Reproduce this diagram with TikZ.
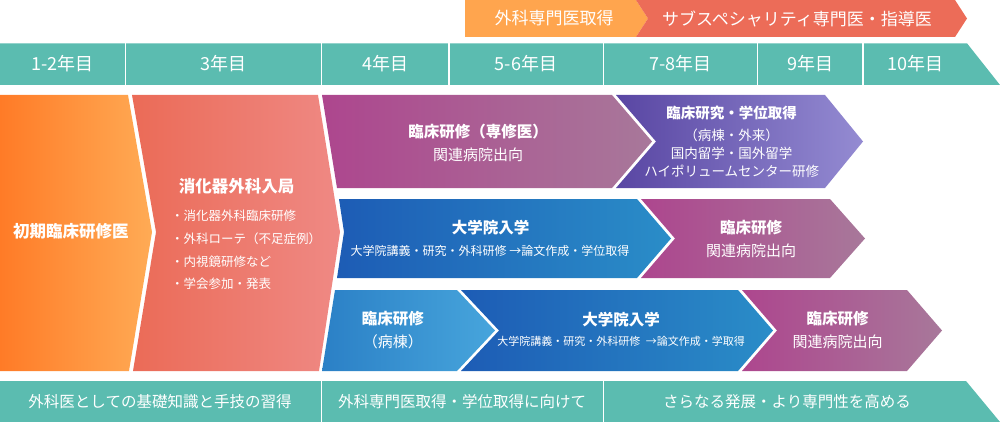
\documentclass[tikz,border=0pt]{standalone}
\usepackage{fontspec}
\newfontfamily\jp{Noto Sans CJK JP}
\usepackage{tikz}

\definecolor{bandteal}{HTML}{5BBCB0}
\definecolor{toporange}{HTML}{FFA54E}
\definecolor{topred}{HTML}{EC6C58}
\definecolor{orangeL}{HTML}{FF7B27}
\definecolor{orangeR}{HTML}{FFAB55}
\definecolor{redL}{HTML}{EB6B57}
\definecolor{redR}{HTML}{EF8984}
\definecolor{magL}{HTML}{AD468E}
\definecolor{magR}{HTML}{A8789A}
\definecolor{purL}{HTML}{5946A3}
\definecolor{purR}{HTML}{948BD2}
\definecolor{bluL}{HTML}{1D5CB5}
\definecolor{bluR}{HTML}{2A8DC8}
\definecolor{skyL}{HTML}{2B80C6}
\definecolor{skyR}{HTML}{47A5DC}

\newcommand{\jpsize}[1]{\jp\fontsize{#1pt}{#1pt}\selectfont}
\newcommand{\jpskip}[2]{\jp\fontsize{#1pt}{#2pt}\selectfont}

\tikzset{
  wtxt/.style={text=white, inner sep=0pt, align=center},
  yearlbl/.style={wtxt, font=\jpsize{18}},
  bandlbl/.style={wtxt, font=\jpsize{15.5}},
  ttl/.style={wtxt, font=\jpsize{15.5}\bfseries},
  sub/.style={wtxt, font=\jpsize{15}},
  small/.style={wtxt, font=\jpsize{12}},
  divider/.style={white, line width=1.3pt}
}

\begin{document}
\begin{tikzpicture}[x=1pt,y=-1pt]
  \useasboundingbox (0,0) rectangle (1000,422);

  % top banners
  \fill[toporange] (465,0) -- (636,0) -- (648,18.5) -- (636,37) -- (465,37) -- cycle;
  \fill[topred] (636,0) -- (955,0) -- (967,18.5) -- (955,37) -- (636,37) -- (648,18.5) -- cycle;
  \node[bandlbl, font=\jpsize{17}] (senmon) at (554,18.5) {外科専門医取得};
  \node[bandlbl, font=\jpsize{17}] (subspec) at (797,18.5) {サブスペシャリティ専門医・指導医};

  % year bar
  \fill[bandteal] (0,43.3) -- (967,43.3) -- (1000,85) -- (0,85) -- cycle;
  \foreach \x in {125.5,321.5,449,603.5,757.5,863}
    \draw[divider] (\x,43.3) -- (\x,85);
  \node[yearlbl] (yr12) at (62.7,64) {1-2年目};
  \node[yearlbl] (yr3) at (223.5,64) {3年目};
  \node[yearlbl] (yr4) at (385,64) {4年目};
  \node[yearlbl] (yr56) at (526,64) {5-6年目};
  \node[yearlbl] (yr78) at (680.5,64) {7-8年目};
  \node[yearlbl] (yr9) at (810,64) {9年目};
  \node[yearlbl] (yr10) at (915,64) {10年目};

  % first two stages
  \shade[left color=orangeL, right color=orangeR]
    (0,95) -- (128,95) -- (152,232) -- (129,371) -- (0,371) -- cycle;
  \shade[left color=redL, right color=redR]
    (132,95) -- (318,95) -- (340,232) -- (319,371) -- (133,371) -- (156,232) -- cycle;
  \node[ttl, font=\jpsize{16.5}\bfseries] (shoki) at (70.8,231.7) {初期臨床研修医};
  \node[ttl, font=\jpsize{16.5}\bfseries] (nyukyoku) at (236.7,186.7) {消化器外科入局};
  \node[small, align=left, anchor=west, font=\jpskip{12.5}{22.7}]
    (naiyo) at (171,250) {・消化器外科臨床研修\\・外科ローテ（不足症例）\\・内視鏡研修など\\・学会参加・発表};

  % row 1
  \shade[left color=magL, right color=magR]
    (322,95) -- (612,95) -- (652,141.5) -- (612,188) -- (337,188) -- cycle;
  \shade[left color=purL, right color=purR]
    (616,95) -- (825,95) -- (863,141.5) -- (825,188) -- (616,188) -- (656,141.5) -- cycle;
  \node[ttl] (senshu) at (478,131.7) {臨床研修（専修医）};
  \node[sub] (shukko1) at (478,155) {関連病院出向};
  \node[ttl, font=\jpsize{14.5}\bfseries] (kenkyu) at (731.7,113) {臨床研究・学位取得};
  \node[wtxt, font=\jpskip{13.5}{18}] (ryugaku) at (731.7,153)
    {（病棟・外来）\\国内留学・国外留学\\ハイポリュームセンター研修};

  % row 2
  \shade[left color=bluL, right color=bluR]
    (339,199) -- (637,199) -- (671,238.5) -- (637,278) -- (337,278) -- (344,232) -- cycle;
  \shade[left color=magL, right color=magR]
    (641,199) -- (830,199) -- (865,238.5) -- (830,278) -- (641,278) -- (675,238.5) -- cycle;
  \node[ttl] (daigakuin1) at (490.5,228) {大学院入学};
  \node[small] (kogi1) at (490,250.7) {大学院講義・研究・外科研修 →論文作成・学位取得};
  \node[ttl] (rinsho2) at (751,227.7) {臨床研修};
  \node[sub] (shukko2) at (751,250.7) {関連病院出向};

  % row 3
  \shade[left color=skyL, right color=skyR]
    (335,290) -- (457,290) -- (495,330.5) -- (457,371) -- (322,371) -- cycle;
  \shade[left color=bluL, right color=bluR]
    (461,290) -- (738,290) -- (773,330.5) -- (738,371) -- (461,371) -- (499,330.5) -- cycle;
  \shade[left color=magL, right color=magR]
    (742,290) -- (907,290) -- (942,330.5) -- (907,371) -- (742,371) -- (777,330.5) -- cycle;
  \node[ttl] (rinsho3) at (392.8,319) {臨床研修};
  \node[sub] (byoto) at (392.8,341.7) {（病棟）};
  \node[ttl] (daigakuin2) at (621,320) {大学院入学};
  \node[small, font=\jpsize{11}] (kogi2) at (621,341.7) {大学院講義・研究・外科研修\enspace →論文作成・学取得};
  \node[ttl] (rinsho4) at (837.5,319) {臨床研修};
  \node[sub] (shukko3) at (837.5,341.7) {関連病院出向};

  % bottom bar
  \fill[bandteal] (0,381) -- (966,381) -- (1000,422) -- (0,422) -- cycle;
  \foreach \x in {321.7,603.3}
    \draw[divider] (\x,381) -- (\x,422);
  \node[bandlbl] (kiso) at (160,401.7) {外科医としての基礎知識と手技の習得};
  \node[bandlbl] (mukete) at (462,401.7) {外科専門医取得・学位取得に向けて};
  \node[bandlbl] (hatten) at (787,401.7) {さらなる発展・より専門性を高める};
\end{tikzpicture}
\end{document}
